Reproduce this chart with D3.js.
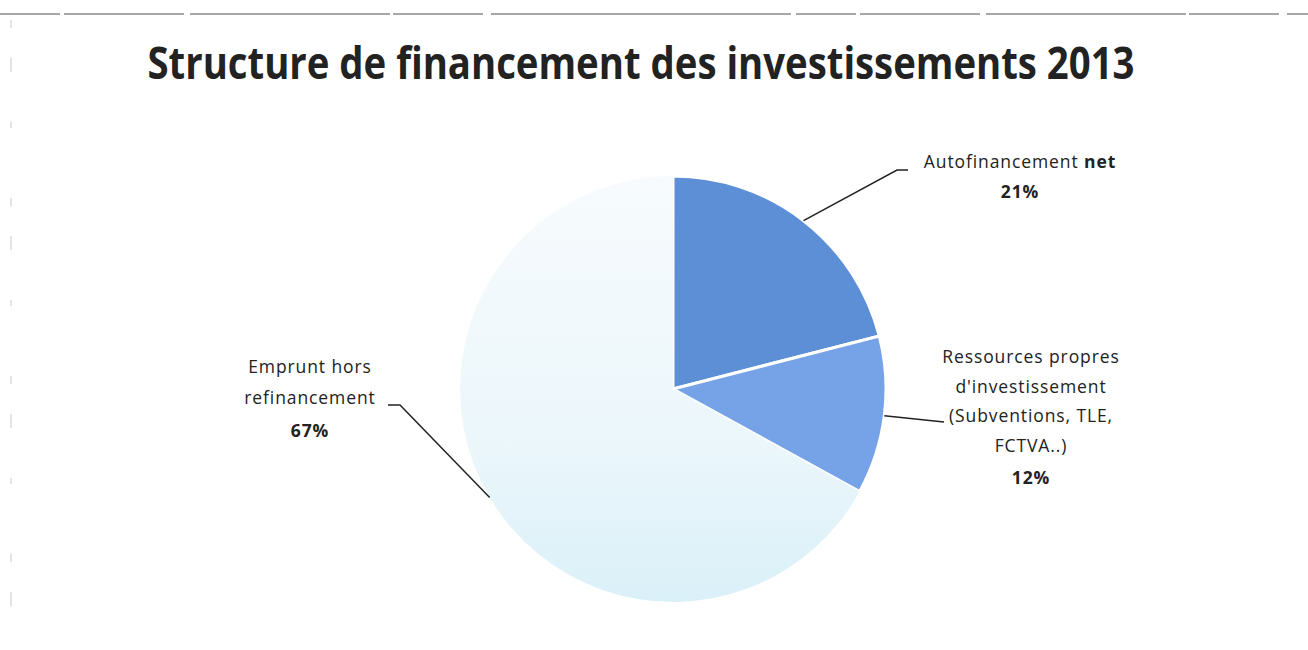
<!DOCTYPE html>
<html>
<head>
<meta charset="utf-8">
<script src="https://cdn.jsdelivr.net/npm/d3@7"></script>
<style>
  body { margin: 0; background: #fff; }
  svg { display: block; }
</style>
</head>
<body>
<div id="chart"></div>
<script>
// données du graphique
const categories = ['Autofinancement net', 'Ressources propres d\'investissement', 'Emprunt hors refinancement'];
const values = [21, 12, 67];
const labelLines = [
  ['Autofinancement net'],
  ['Ressources propres', 'd\'investissement', '(Subventions, TLE,', 'FCTVA..)'],
  ['Emprunt hors', 'refinancement']
];
const title = 'Structure de financement des investissements 2013';

const width = 1308;
const height = 650;
const cx = 673, cy = 389, radius = 213;

// position des étiquettes (mise en page)
const labelPos = [
  { x: 1020, y: 168, lh: 28, elbow: [897, 170], end: [908, 170] },
  { x: 1031, y: 363, lh: 29.5, elbow: [944, 422], end: [944, 422] },
  { x: 310, y: 373, lh: 30.5, elbow: [400, 405], end: [388, 405] }
];

const svg = d3.select('#chart').append('svg')
  .attr('width', width)
  .attr('height', height);

const defs = svg.append('defs');
const grad = defs.append('linearGradient')
  .attr('id', 'light')
  .attr('x1', 0).attr('y1', 0).attr('x2', 0).attr('y2', 1);
grad.append('stop').attr('offset', '0%').attr('stop-color', '#f7fbfd');
grad.append('stop').attr('offset', '60%').attr('stop-color', '#ecf7fb');
grad.append('stop').attr('offset', '100%').attr('stop-color', '#daf0f8');

const colors = ['#5c8fd6', '#76a3e8', 'url(#light)'];

// bordure du scan
svg.append('line')
  .attr('x1', 0).attr('y1', 14).attr('x2', width).attr('y2', 14)
  .attr('stroke', '#8a8a8a').attr('stroke-width', 1.5)
  .attr('stroke-dasharray', '60 4 120 6 200 3 90 8 300 5');
svg.append('line')
  .attr('x1', 11).attr('y1', 20).attr('x2', 11).attr('y2', 640)
  .attr('stroke', '#c8c8c8').attr('stroke-width', 1)
  .attr('stroke-dasharray', '8 30 14 50 6 70');

// titre
svg.append('text')
  .attr('x', 641)
  .attr('y', 79)
  .attr('text-anchor', 'middle')
  .attr('font-family', 'Open Sans, sans-serif')
  .attr('font-weight', 700)
  .attr('font-size', 44)
  .attr('fill', '#222')
  .attr('textLength', 987)
  .attr('lengthAdjust', 'spacingAndGlyphs')
  .text(title);

const pie = d3.pie().sort(null).value(d => d)(values);
const arc = d3.arc().innerRadius(0).outerRadius(radius);

const g = svg.append('g').attr('transform', `translate(${cx},${cy})`);

g.selectAll('path')
  .data(pie)
  .enter().append('path')
  .attr('d', arc)
  .attr('fill', (d, i) => colors[i])
  .attr('stroke', (d, i) => i < 2 ? '#fff' : 'none')
  .attr('stroke-width', 3);

// lignes de rappel et étiquettes
pie.forEach((d, i) => {
  const mid = (d.startAngle + d.endAngle) / 2;
  const sx = cx + Math.sin(mid) * radius;
  const sy = cy - Math.cos(mid) * radius;
  const p = labelPos[i];
  svg.append('polyline')
    .attr('points', `${sx},${sy} ${p.elbow[0]},${p.elbow[1]} ${p.end[0]},${p.end[1]}`)
    .attr('fill', 'none')
    .attr('stroke', '#222')
    .attr('stroke-width', 1.5);

  const t = svg.append('text')
    .attr('text-anchor', 'middle')
    .attr('font-family', 'Open Sans, sans-serif')
    .attr('font-size', 17.5)
    .attr('letter-spacing', 0.9)
    .attr('fill', '#222');
  const lines = labelLines[i];
  lines.forEach((line, j) => {
    const ts = t.append('tspan')
      .attr('x', p.x)
      .attr('y', p.y + j * p.lh);
    if (i === 0) {
      // « net » apparaît en gras dans l'original
      ts.append('tspan').text('Autofinancement ');
      ts.append('tspan').attr('font-weight', 700).text('net');
    } else {
      ts.text(line);
    }
  });
  t.append('tspan')
    .attr('x', p.x)
    .attr('y', p.y + lines.length * p.lh + (i === 0 ? 2 : 3))
    .attr('font-weight', 700)
    .text(values[i] + '%');
});
</script>
</body>
</html>
